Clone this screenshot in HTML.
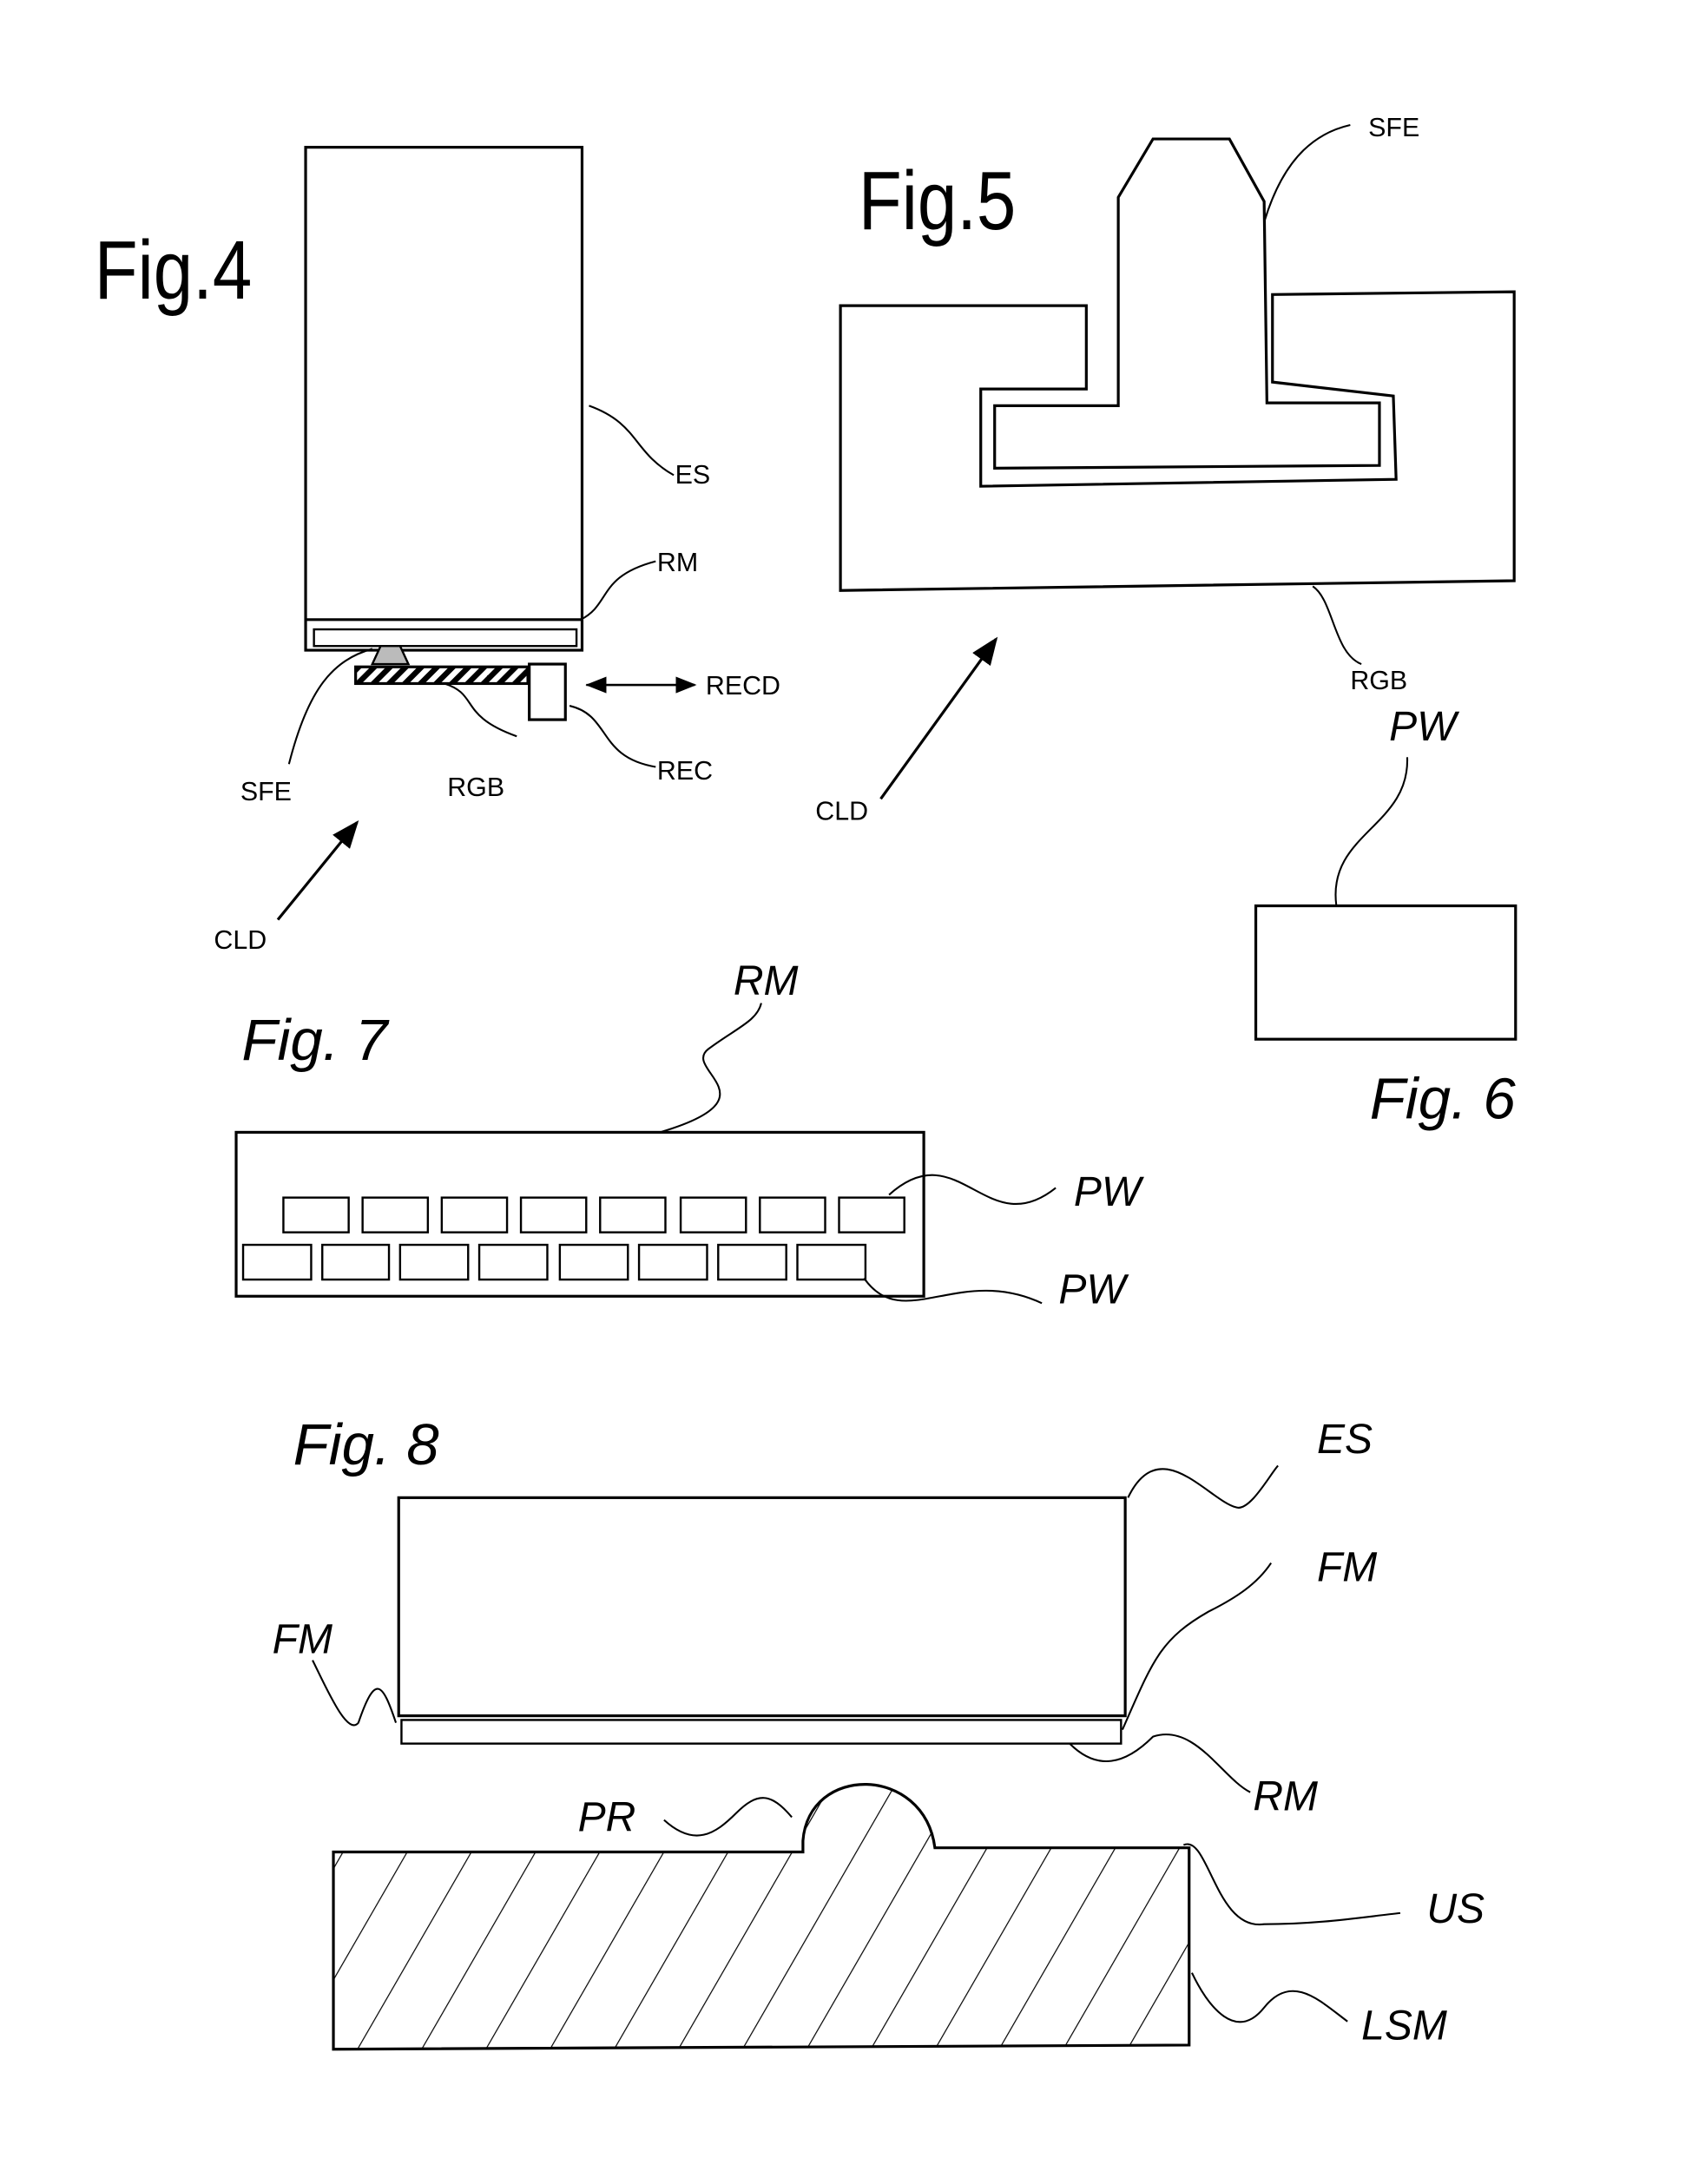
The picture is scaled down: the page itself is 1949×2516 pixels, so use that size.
<!DOCTYPE html>
<html><head><meta charset="utf-8"><style>html,body{margin:0;padding:0;background:#fff}svg{display:block}</style></head>
<body>
<svg width="1949" height="2516" viewBox="0 0 1218 1572" preserveAspectRatio="none" xmlns="http://www.w3.org/2000/svg" font-family="Liberation Sans, sans-serif">
<defs>
<pattern id="h1" patternUnits="userSpaceOnUse" width="8" height="8" patternTransform="rotate(45)"><rect width="8" height="8" fill="#fff"/><rect width="4" height="8" fill="#000"/></pattern>
<pattern id="h2" patternUnits="userSpaceOnUse" width="40" height="40" patternTransform="rotate(30)"><line x1="0" y1="0" x2="0" y2="40" stroke="#000" stroke-width="1.5"/></pattern>
<marker id="ar" markerWidth="10" markerHeight="10" refX="9" refY="5" orient="auto"><path d="M0,1 L10,5 L0,9 Z" fill="#000"/></marker>
</defs>
<g fill="none" stroke="#000" stroke-width="2">
<!-- Fig 4 -->
<rect x="220" y="106" width="199" height="362"/>
<line x1="220" y1="446" x2="419" y2="446"/>
<rect x="226" y="453" width="189" height="12" stroke-width="1.5"/>
<path d="M268,478 L274,465 L288,465 L294,478 Z" fill="#bbb" stroke-width="1.5"/>
<rect x="256" y="480" width="124" height="12" fill="url(#h1)"/>
<rect x="381" y="478" width="26" height="40"/>
<line x1="422" y1="493" x2="500" y2="493" stroke-width="1.5" marker-end="url(#ar)"/>
<line x1="500" y1="493" x2="423" y2="493" stroke-width="1.5" marker-end="url(#ar)"/>
<g stroke-width="1.3">
<path d="M424,292 C460,305 455,325 485,342"/>
<path d="M418,446 C440,435 430,415 472,404"/>
<path d="M268,467 C240,475 222,495 208,550"/>
<path d="M320,492 C345,500 330,515 372,530"/>
<path d="M410,508 C440,515 430,545 472,552"/>
</g>
<line x1="200" y1="662" x2="257" y2="592" stroke-width="2" marker-end="url(#ar)"/>
<!-- Fig 5 -->
<path d="M605,220 L782,220 L782,280 L706,280 L706,350 L1005,345 L1003,285 L916,275 L916,212 L1090,210 L1090,418 L605,425 Z"/>
<path d="M830,100 L885,100 L910,145 L912,290 L993,290 L993,335 L716,337 L716,292 L805,292 L805,142 Z"/>
<path d="M910,160 C925,110 950,95 972,90" stroke-width="1.3"/>
<path d="M945,422 C960,432 960,470 980,478" stroke-width="1.3"/>
<line x1="634" y1="575" x2="717" y2="460" marker-end="url(#ar)"/>
<!-- Fig 6 -->
<rect x="904" y="652" width="187" height="96"/>
<path d="M962,652 C955,600 1015,595 1013,545" stroke-width="1.3"/>
<!-- Fig 7 -->
<rect x="170" y="815" width="495" height="118"/>
<g stroke-width="1.5">
<rect x="204" y="862" width="47" height="25"/><rect x="261" y="862" width="47" height="25"/><rect x="318" y="862" width="47" height="25"/><rect x="375" y="862" width="47" height="25"/><rect x="432" y="862" width="47" height="25"/><rect x="490" y="862" width="47" height="25"/><rect x="547" y="862" width="47" height="25"/><rect x="604" y="862" width="47" height="25"/>
<rect x="175" y="896" width="49" height="25"/><rect x="232" y="896" width="48" height="25"/><rect x="288" y="896" width="49" height="25"/><rect x="345" y="896" width="49" height="25"/><rect x="403" y="896" width="49" height="25"/><rect x="460" y="896" width="49" height="25"/><rect x="517" y="896" width="49" height="25"/><rect x="574" y="896" width="49" height="25"/>
</g>
<g stroke-width="1.3">
<path d="M475,815 C560,790 490,770 510,755 C530,740 545,735 548,722"/>
<path d="M640,860 C690,815 710,895 760,855"/>
<path d="M622,920 C650,960 690,910 750,938"/>
</g>
<!-- Fig 8 -->
<rect x="287" y="1078" width="523" height="157"/>
<rect x="289" y="1238" width="518" height="17" stroke-width="1.5"/>
<path d="M240,1333 L578,1333 L578,1325 C582,1270 665,1270 673,1330 L856,1330 L856,1472 L240,1475 Z" fill="url(#h2)"/>
<g stroke-width="1.3">
<path d="M812,1078 C835,1030 870,1080 890,1085 C900,1088 915,1060 920,1055"/>
<path d="M808,1245 C830,1195 835,1180 870,1160 C890,1150 905,1140 915,1125"/>
<path d="M285,1240 C275,1210 270,1205 258,1240 C250,1250 235,1215 225,1195"/>
<path d="M770,1255 C790,1275 810,1270 830,1250 C860,1240 880,1280 900,1290"/>
<path d="M478,1310 C500,1330 515,1320 530,1305 C545,1290 555,1290 570,1308"/>
<path d="M852,1328 C870,1320 875,1390 910,1385 C950,1385 980,1380 1008,1377"/>
<path d="M858,1420 C870,1445 890,1470 910,1445 C930,1420 950,1440 970,1455"/>
</g>
</g>
<g fill="#000" font-size="19">
<text x="486" y="348">ES</text>
<text x="473" y="411">RM</text>
<text x="508" y="500">RECD</text>
<text x="473" y="561">REC</text>
<text x="173" y="576">SFE</text>
<text x="322" y="573">RGB</text>
<text x="154" y="683">CLD</text>
<text x="985" y="98">SFE</text>
<text x="972" y="496">RGB</text>
<text x="587" y="590">CLD</text>
</g>
<g fill="#000" font-size="34" font-style="italic">
<text x="1000" y="533" font-size="30">PW</text>
<text x="174" y="763" font-size="42">Fig. 7</text>
<text x="986" y="805" font-size="42">Fig. 6</text>
<text x="528" y="716" font-size="30">RM</text>
<text x="773" y="868" font-size="30">PW</text>
<text x="762" y="938" font-size="30">PW</text>
<text x="211" y="1054" font-size="42">Fig. 8</text>
<text x="948" y="1046" font-size="30">ES</text>
<text x="948" y="1138" font-size="30">FM</text>
<text x="196" y="1190" font-size="30">FM</text>
<text x="902" y="1303" font-size="30">RM</text>
<text x="416" y="1318" font-size="30">PR</text>
<text x="1027" y="1384" font-size="30">US</text>
<text x="980" y="1468" font-size="30">LSM</text>
</g>
<g fill="#000" font-size="60" font-family="Liberation Sans, sans-serif">
<text x="68" y="215" transform="scale(0.85 1)" style="transform-origin:68px 215px">Fig.4</text>
<text x="618" y="165" transform="scale(0.85 1)" style="transform-origin:618px 165px">Fig.5</text>
</g>
</svg>
</body></html>
